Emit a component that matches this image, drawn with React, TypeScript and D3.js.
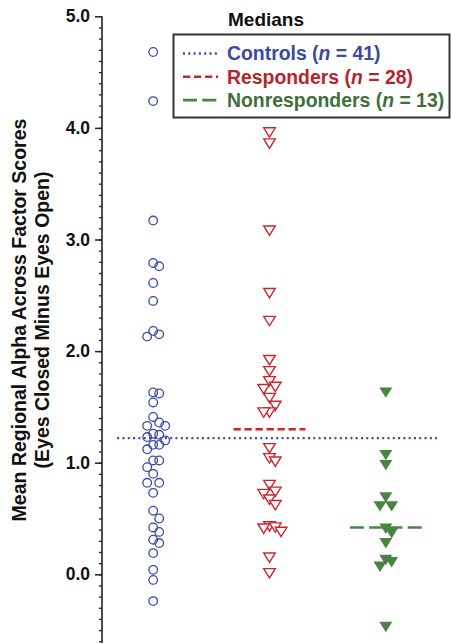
import React, { useRef, useEffect } from "react";
import * as d3 from "d3";

// values
const groups = ["Controls", "Responders", "Nonresponders"];
const counts = [41, 28, 13];

const controls = [
  4.68, 4.24, 3.17, 2.79, 2.76, 2.61, 2.45, 2.18, 2.15, 2.13, 1.63, 1.62, 1.54,
  1.41, 1.36, 1.33, 1.33, 1.26, 1.25, 1.23, 1.2, 1.16, 1.16, 1.12, 1.02, 1.02,
  0.96, 0.9, 0.82, 0.82, 0.73, 0.57, 0.5, 0.42, 0.38, 0.31, 0.28, 0.19, 0.04,
  -0.05, -0.24,
];
const responders = [
  3.96, 3.86, 3.08, 2.52, 2.27, 1.92, 1.82, 1.73, 1.68, 1.66, 1.58, 1.51, 1.45,
  1.45, 1.13, 1.04, 1.01, 0.8, 0.74, 0.72, 0.67, 0.62, 0.43, 0.42, 0.41, 0.38,
  0.15, 0.01,
];
const nonresponders = [
  1.63, 1.07, 0.98, 0.69, 0.61, 0.61, 0.41, 0.37, 0.28, 0.13, 0.11, 0.07, -0.47,
];
const medians = [1.22, 1.3, 0.42];
const yTicks = [0, 1, 2, 3, 4, 5];

const BLUE = "#3b4aa3";
const RED = "#cc262d";
const GREEN = "#4a8443";
const FONT = "'Liberation Sans', Arial, Helvetica, sans-serif";

// greedy dodge: put each point in the nearest free lane
function dodge(values: number[], y: d3.ScaleLinear<number, number>, gap: number) {
  const lanes = [0, 1, -1, 2, -2, 3, -3];
  const placed: { lane: number; py: number }[] = [];
  const order = values.map((v, i) => i).sort((a, b) => values[b] - values[a]);
  const out = new Array(values.length).fill(0);
  order.forEach((i) => {
    const py = y(values[i]);
    const lane =
      lanes.find((l) => !placed.some((p) => p.lane === l && Math.abs(p.py - py) < gap)) ?? 0;
    placed.push({ lane, py });
    out[i] = lane;
  });
  return out;
}

const App = () => {
  const ref = useRef<SVGSVGElement>(null);

  useEffect(() => {
    const width = 451;
    const height = 643;
    const axisX = 102;

    const svg = d3.select(ref.current);
    svg.selectAll("*").remove();

    const y = d3.scaleLinear().domain([0, 5]).range([574.3, 16.3]);
    const x = d3.scalePoint().domain(groups).range([axisX, 437]).padding(0.44);

    // y axis: minor ticks every 0.1, then major ticks with labels
    const minor = d3.range(-6, 50).map((d) => d / 10);
    svg
      .append("g")
      .attr("transform", `translate(${axisX},0)`)
      .call(d3.axisLeft(y).tickValues(minor).tickSize(3).tickFormat(() => ""))
      .call((g) => g.select(".domain").remove())
      .selectAll("line")
      .attr("stroke", "#222")
      .attr("stroke-width", 1.3);

    const major = svg
      .append("g")
      .attr("transform", `translate(${axisX},0)`)
      .call(d3.axisLeft(y).tickValues(yTicks).tickSize(7).tickPadding(5).tickFormat(d3.format(".1f")));
    major.select(".domain").remove();
    major.selectAll("line").attr("stroke", "#222").attr("stroke-width", 1.5);
    major
      .selectAll("text")
      .attr("font-family", FONT)
      .attr("font-size", 17.5)
      .attr("font-weight", "bold")
      .attr("fill", "#111");

    svg
      .append("line")
      .attr("x1", axisX)
      .attr("x2", axisX)
      .attr("y1", y(5))
      .attr("y2", height)
      .attr("stroke", "#222")
      .attr("stroke-width", 1.6);

    // y axis title
    const title = svg
      .append("text")
      .attr("transform", `translate(0,${320}) rotate(-90)`)
      .attr("text-anchor", "middle")
      .attr("font-family", FONT)
      .attr("font-size", 19.5)
      .attr("font-weight", "bold")
      .attr("fill", "#111");
    title.append("tspan").attr("x", 0).attr("y", 26).text("Mean Regional Alpha Across Factor Scores");
    title.append("tspan").attr("x", 0).attr("y", 48.5).text("(Eyes Closed Minus Eyes Open)");

    // median lines
    svg
      .append("line")
      .attr("x1", x("Controls")! - 36)
      .attr("x2", 437)
      .attr("y1", y(medians[0]))
      .attr("y2", y(medians[0]))
      .attr("stroke", BLUE)
      .attr("stroke-width", 2.3)
      .attr("stroke-dasharray", "2 3.3");
    svg
      .append("line")
      .attr("x1", x("Responders")! - 36)
      .attr("x2", x("Responders")! + 36)
      .attr("y1", y(medians[1]))
      .attr("y2", y(medians[1]))
      .attr("stroke", RED)
      .attr("stroke-width", 2.4)
      .attr("stroke-dasharray", "7.3 3.7");
    svg
      .append("line")
      .attr("x1", x("Nonresponders")! - 36)
      .attr("x2", x("Nonresponders")! + 36)
      .attr("y1", y(medians[2]))
      .attr("y2", y(medians[2]))
      .attr("stroke", GREEN)
      .attr("stroke-width", 2.6)
      .attr("stroke-dasharray", "14 5.3");

    // controls: open circles
    const cLanes = dodge(controls, y, 9);
    svg
      .append("g")
      .selectAll("circle")
      .data(controls)
      .join("circle")
      .attr("cx", (d, i) => x("Controls")! + cLanes[i] * 6)
      .attr("cy", (d) => y(d))
      .attr("r", 4.3)
      .attr("fill", "none")
      .attr("stroke", BLUE)
      .attr("stroke-width", 1.3);

    // responders: open down triangles
    const rLanes = dodge(responders, y, 10);
    svg
      .append("g")
      .selectAll("path")
      .data(responders)
      .join("path")
      .attr("d", "M-5.8,-4.6L5.8,-4.6L0,4.8Z")
      .attr("transform", (d, i) => `translate(${x("Responders")! + rLanes[i] * 5.8},${y(d)})`)
      .attr("fill", "white")
      .attr("stroke", RED)
      .attr("stroke-width", 1.4)
      .attr("stroke-linejoin", "miter");

    // nonresponders: filled down triangles
    const nLanes = dodge(nonresponders, y, 10);
    svg
      .append("g")
      .selectAll("path")
      .data(nonresponders)
      .join("path")
      .attr("d", "M-6.5,-5L6.5,-5L0,5.4Z")
      .attr("transform", (d, i) => `translate(${x("Nonresponders")! + nLanes[i] * 5.8},${y(d)})`)
      .attr("fill", GREEN);

    // legend
    svg
      .append("text")
      .attr("x", 266)
      .attr("y", 26)
      .attr("text-anchor", "middle")
      .attr("font-family", FONT)
      .attr("font-size", 19)
      .attr("font-weight", "bold")
      .attr("fill", "#111")
      .text("Medians");

    svg
      .append("rect")
      .attr("x", 173.5)
      .attr("y", 34.5)
      .attr("width", 276)
      .attr("height", 83)
      .attr("fill", "white")
      .attr("stroke", "#333")
      .attr("stroke-width", 2);

    const legendItems = [
      { color: BLUE, dash: "2 3.3", sw: 2.3 },
      { color: RED, dash: "7.3 3.7", sw: 2.4 },
      { color: GREEN, dash: "14 5.3", sw: 2.6 },
    ];
    const textColors = ["#3a4aa2", "#b8242b", "#3f7039"];
    legendItems.forEach((it, i) => {
      const cy = 53.5 + i * 23.3;
      svg
        .append("line")
        .attr("x1", 183)
        .attr("x2", 218)
        .attr("y1", cy)
        .attr("y2", cy)
        .attr("stroke", it.color)
        .attr("stroke-width", it.sw)
        .attr("stroke-dasharray", it.dash);
      const t = svg
        .append("text")
        .attr("x", 227)
        .attr("y", cy + 6.7)
        .attr("font-family", FONT)
        .attr("font-size", 19.4)
        .attr("font-weight", "bold")
        .attr("fill", textColors[i]);
      t.append("tspan").text(`${groups[i]} (`);
      t.append("tspan").attr("font-style", "italic").text("n");
      t.append("tspan").text(` = ${counts[i]})`);
    });

    svg.attr("width", width).attr("height", height);
  }, []);

  return (
    <svg
      ref={ref}
      width={451}
      height={643}
      style={{ position: "absolute", left: 0, top: 0, background: "white" }}
    />
  );
};

export default App;
